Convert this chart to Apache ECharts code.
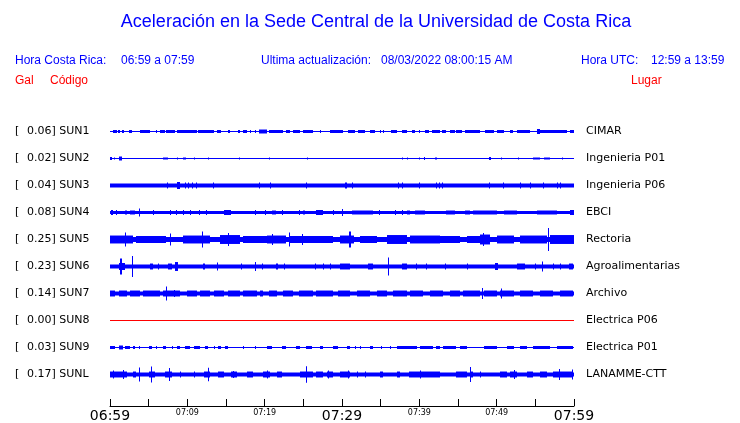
<!DOCTYPE html>
<html><head><meta charset="utf-8">
<script src="https://cdn.jsdelivr.net/npm/echarts@6/dist/echarts.min.js"></script>
<style>html,body{margin:0;padding:0;background:#fff}#c{width:740px;height:423px}</style>
</head><body><div id="c"></div>
<script>
// ---- data (minutes since 06:59; amplitudes in trace units) ----
const codes = ['SUN1','SUN2','SUN3','SUN4','SUN5','SUN6','SUN7','SUN8','SUN9','SUNL'];
const peaks = ['0.06','0.02','0.04','0.08','0.25','0.23','0.14','0.00','0.03','0.17'];
const stations = ['CIMAR','Ingenieria P01','Ingenieria P06','EBCI','Rectoria','Agroalimentarias','Archivo','Electrica P06','Electrica P01','LANAMME-CTT'];
const tickLabels = ['06:59','07:09','07:19','07:29','07:39','07:49','07:59'];
const baseHalf = [0.5,0.5,2,1.5,2.5,2,2,0.5,0.5,2];
// bursts: [start, end, half amplitude]
const sun1 = [[0.35,0.86,1.5],[1.08,1.29,1.5],[1.6,1.8,1.5],[2.5,2.9,1.5],[3.9,5.2,1.5],[6.0,6.1,1.5],[6.5,7.1,1.5],[7.3,8.4,1.5],[8.6,11.2,1.5],[11.4,13.4,1.5],[13.8,14.4,1.5],[15.3,15.5,1.5],[16.6,16.8,1.5],[17.2,17.7,1.5],[18.1,18.2,1.5],[18.7,18.8,1.5],[19.3,20.3,2],[20.5,22.4,1.5],[22.8,23.3,1.5],[23.7,24.6,1.5],[25.0,26.3,1.5],[27.2,27.3,1.5],[28.4,30.1,1.5],[30.8,31.7,1.5],[32.1,33.0,1.5],[33.6,34.3,1.5],[34.9,35.0,1.5],[35.3,35.4,1.5],[36.4,37.1,1.5],[37.7,38.4,1.5],[39.0,39.4,1.5],[39.9,40.0,1.5],[40.7,41.2,1.5],[41.6,42.7,1.5],[42.9,43.5,1.5],[44.0,44.6,1.5],[44.8,45.5,1.5],[45.9,47.8,1.5],[48.5,49.6,1.5],[50.0,50.9,1.5],[51.7,52.1,1.5],[52.6,54.3,1.5],[55.2,55.6,2.5],[55.6,59.1,1.5],[59.5,60,1.5]];
const sun2 = [[0,0.2,1.5],[0.5,0.7,1],[1.2,1.6,2],[6.9,7.5,1],[8.6,8.7,1],[9.5,9.8,1],[10.9,11.0,1],[12.7,12.8,1],[16.7,16.8,1],[20.6,20.7,1],[25.5,25.6,1],[37.7,37.8,1],[38.4,38.5,1],[40.0,40.1,1],[40.6,40.7,1.5],[42.0,42.3,1],[49.0,49.3,1.5],[50.6,50.7,1],[52.8,52.9,1],[54.7,55.6,1],[56.1,56.9,1],[58.5,58.6,1]];
const sun3 = [[7.4,7.5,3],[8.7,9.0,3.5],[9.7,9.8,3],[10.1,10.2,3],[10.6,10.7,3],[11.1,11.2,3],[13.3,13.4,3],[19.3,19.4,3],[20.7,20.8,3],[25.4,25.5,3],[30.4,30.6,3],[31.3,31.4,3],[37.2,37.3,3],[37.7,37.8,3],[40.0,40.1,3],[42.2,42.3,3],[42.6,42.7,3],[42.9,43.0,3],[49.0,49.2,3],[50.8,50.9,3],[53.0,53.1,3],[54.3,54.4,3],[56.0,56.1,3],[57.8,57.9,3],[58.2,58.3,3]];
const sun4 = [[0.1,0.4,2.5],[0.8,0.9,2.5],[1.9,2.2,2],[2.6,3.2,2],[3.8,3.9,4],[5.6,5.7,2.5],[7.7,7.8,2.5],[8.5,8.6,2.5],[9.5,9.6,2.5],[10.3,10.4,2.5],[11.5,11.6,2.5],[12.4,12.5,2.5],[14.7,15.6,2.5],[18.7,18.8,2.5],[20.0,20.1,2.5],[21.0,21.5,2],[22.2,22.3,2.5],[24.5,24.6,2.5],[25.0,25.2,2],[26.7,27.6,2.5],[28.9,29.0,2.5],[30.0,30.1,3.5],[31.3,34.0,2],[34.8,34.9,2.5],[36.9,37.0,2.5],[37.7,37.8,2.5],[38.4,38.8,2],[39.4,40.7,2],[43.5,44.6,2],[45.9,46.5,2],[47.0,50.0,2],[50.9,52.6,2],[55.2,57.8,2],[59.5,60,2.5]];
const sun5 = [[0,3.0,4],[3.4,7.3,3.5],[9.5,12.9,4],[14.2,16.8,4.5],[17.2,20.3,3.5],[20.3,22.8,4],[23.3,28.9,3.5],[29.7,31.5,4],[32.3,34.5,3.5],[35.8,38.4,4.5],[38.8,42.7,4],[42.7,45.3,3.5],[46.1,47.8,3.5],[47.8,49.1,5],[50.0,52.2,4],[53.0,56.5,4],[56.9,60,4.5],[1.9,2.0,7],[7.7,7.8,6],[11.9,12.0,8],[15.3,15.4,6.5],[21.0,21.1,5.5],[23.1,23.2,7],[24.8,24.9,5.5],[30.9,31.1,8],[48.2,48.3,6.5],[56.7,56.8,11.5]];
const sun6 = [[1.1,1.9,3.5],[1.3,1.5,8],[2.8,2.9,10.5],[5.2,5.6,3],[6.2,6.3,3],[7.5,8.0,3],[8.4,8.8,4.5],[12.0,12.3,3],[13.8,13.9,4],[17.0,17.1,3],[18.7,18.8,4.5],[19.7,19.8,3],[21.5,21.7,3],[22.5,22.6,3],[26.5,26.6,3],[27.5,27.6,3],[28.4,28.5,3],[29.8,31.0,3],[33.4,34.0,3],[35.9,36.0,9],[37.7,38.4,3],[39.6,39.7,3],[40.9,41.0,3],[43.3,43.4,3],[46.1,46.2,3],[49.8,50.2,3.5],[52.6,53.7,3],[55.0,55.1,3],[55.8,55.9,5],[57.3,57.4,3],[58.2,58.3,3],[59.3,59.9,3]];
const sun7 = [[0,0.6,3],[1.1,2.2,3],[2.6,3.9,3],[4.3,6.5,3],[6.9,9.1,3],[9.9,11.2,3],[11.6,12.9,3],[13.4,14.7,3],[15.3,16.8,3],[17.2,19.0,3],[19.4,19.8,3],[20.5,21.6,3],[22.4,23.7,3],[24.4,26.3,3],[26.7,28.9,3],[29.5,31.0,3],[31.9,33.6,3],[34.5,35.8,3],[36.6,38.4,3],[38.8,40.5,3],[41.4,43.1,3],[44.0,45.3,3],[45.7,47.8,3],[48.3,50.0,3],[50.4,52.2,3],[53.0,54.7,3],[55.6,57.3,3],[58.2,59.9,3],[7.2,7.3,7],[8.3,8.4,3.5],[48.1,48.2,5.5],[50.6,50.7,5]];
const sun8 = [];
const sun9 = [[0,0.6,1.5],[1.1,1.7,2],[1.9,2.6,1.5],[3.0,3.2,1.5],[3.7,3.8,1.5],[5.0,5.4,1.5],[6.0,6.1,1.5],[6.9,7.3,1.5],[8.0,8.1,1.5],[8.6,9.1,1.5],[9.7,10.3,1.5],[10.8,11.6,1.5],[12.3,12.7,1.5],[13.4,13.5,1.5],[14.0,14.4,1.5],[14.9,15.3,1.5],[17.2,17.3,1.5],[18.7,18.8,1.5],[20.3,20.9,1.5],[22.2,22.8,1.5],[24.1,24.6,1.5],[25.4,26.1,1.5],[27.2,27.6,1.5],[28.9,29.5,1.5],[30.6,31.0,1.5],[31.7,31.8,1.5],[32.3,32.4,1.5],[33.6,34.0,1.5],[35.1,35.2,1.5],[36.2,36.3,1.5],[37.1,39.7,1.5],[40.1,41.8,1.5],[42.2,42.7,1.5],[43.1,44.8,1.5],[45.3,46.1,1.5],[48.3,50.0,1.5],[51.3,52.2,1.5],[53.0,53.9,1.5],[54.7,56.9,1.5],[57.8,59.9,1.5]];
const sunL = [[0,2.2,3],[3.0,3.4,3],[5.0,5.8,3],[7.1,8.0,3],[9.1,9.2,3],[10.8,10.9,3],[12.1,12.9,3],[14.0,14.7,3],[15.7,16.4,3],[17.7,18.5,3],[19.8,20.7,3],[21.6,22.2,3],[24.6,26.3,3],[26.7,27.6,3],[28.0,28.9,3],[29.7,31.0,3],[31.9,32.0,3],[33.0,33.1,3],[34.9,35.3,3],[37.1,37.5,3],[38.6,42.7,3],[44.8,46.1,3],[46.6,47.0,3],[47.8,47.9,3],[50.4,51.3,3],[51.7,52.6,3],[53.9,54.7,3],[55.6,56.5,3],[57.3,59.9,3],[0.35,0.45,4],[1.7,1.8,4.5],[3.8,3.9,7],[5.3,5.4,8],[7.6,7.7,6.5],[12.7,12.8,6.7],[15.9,16.0,3.5],[20.3,20.4,4],[25.3,25.4,8.3],[28.2,28.3,4],[30.8,30.9,4],[40.1,40.2,4],[46.6,46.7,7.5],[52.2,52.3,4.5],[58.0,58.1,5.5],[59.7,59.8,5]];
const bursts = [sun1,sun2,sun3,sun4,sun5,sun6,sun7,sun8,sun9,sunL];

// ---- styles ----
const BLUE = '#0000ff', RED = '#ff0000';
const traceColor = i => (i === 7 ? RED : BLUE);
const ROW = 27.2;

const chart = echarts.init(document.getElementById('c'), null, {renderer: 'canvas'});

const series = bursts.map((list, i) => {
  const items = [[0, 60, baseHalf[i], i]].concat(list.map(b => [b[0], b[1], b[2], i]));
  return {
    type: 'custom',
    xAxisIndex: 0, yAxisIndex: 0,
    silent: true,
    clip: false,
    data: items,
    encode: {x: [0, 1], y: 2},
    renderItem: (params, api) => {
      const s = api.value(0), e = api.value(1), h = api.value(2), r = api.value(3);
      const c = ROW / 2 + ROW * r;
      const p0 = api.coord([s, c - h]);
      const p1 = api.coord([e, c + h]);
      const x = Math.round(p0[0]);
      const w = Math.max(1, Math.round(p1[0]) - x);
      const y = Math.min(p0[1], p1[1]);
      const hh = Math.max(1, Math.abs(p1[1] - p0[1]));
      return {type: 'rect', shape: {x: x, y: y, width: w, height: hh}, style: {fill: traceColor(r)}};
    }
  };
});

const option = {
  animation: false,
  backgroundColor: '#fff',
  grid: {left: 110, right: 166, top: 118, height: 272},
  xAxis: {
    type: 'value', min: 0, max: 60, interval: 5,
    position: 'bottom', offset: 18,
    splitLine: {show: false},
    axisLine: {onZero: false, lineStyle: {color: '#000', width: 1}},
    axisTick: {inside: true, length: 7, lineStyle: {color: '#000'}},
    axisLabel: {
      margin: 3, color: '#000',
      formatter: v => {
        if (v % 10 !== 0) return '';
        const k = v / 10;
        return (k % 3 === 0 ? '{big|' : '{small|') + tickLabels[k] + '}';
      },
      rich: {
        big: {fontFamily: 'DejaVu Sans', fontSize: 14, color: '#000'},
        small: {fontFamily: 'DejaVu Sans', fontSize: 8, color: '#000'}
      }
    }
  },
  yAxis: [
    {type: 'value', min: 0, max: 272, inverse: true, show: false},
    {
      type: 'category', data: codes, inverse: true, position: 'left',
      axisLine: {show: false}, axisTick: {show: false}, splitLine: {show: false},
      axisLabel: {
        margin: 95, align: 'left', color: '#000',
        formatter: (v, idx) => '{a|[}{b|' + peaks[idx] + '] ' + v + '}',
        rich: {
          a: {fontFamily: 'DejaVu Sans', fontSize: 11, color: '#000', width: 12},
          b: {fontFamily: 'DejaVu Sans', fontSize: 11, color: '#000'}
        }
      }
    },
    {
      type: 'category', data: stations, inverse: true, position: 'right',
      axisLine: {show: false}, axisTick: {show: false}, splitLine: {show: false},
      axisLabel: {margin: 12, align: 'left', color: '#000', fontFamily: 'DejaVu Sans', fontSize: 11}
    }
  ],
  graphic: [
    {type: 'text', x: 376, y: 22, style: {text: 'Aceleración en la Sede Central de la Universidad de Costa Rica', fill: BLUE, font: '18px "Liberation Sans"', textAlign: 'center', textVerticalAlign: 'middle'}},
    {type: 'text', x: 15, y: 61, style: {text: 'Hora Costa Rica:', fill: BLUE, font: '12px "Liberation Sans"', textVerticalAlign: 'middle'}},
    {type: 'text', x: 121, y: 61, style: {text: '06:59 a 07:59', fill: BLUE, font: '12px "Liberation Sans"', textVerticalAlign: 'middle'}},
    {type: 'text', x: 261, y: 61, style: {text: 'Ultima actualización:', fill: BLUE, font: '12px "Liberation Sans"', textVerticalAlign: 'middle'}},
    {type: 'text', x: 381, y: 61, style: {text: '08/03/2022 08:00:15 AM', fill: BLUE, font: '12px "Liberation Sans"', textVerticalAlign: 'middle'}},
    {type: 'text', x: 581, y: 61, style: {text: 'Hora UTC:', fill: BLUE, font: '12px "Liberation Sans"', textVerticalAlign: 'middle'}},
    {type: 'text', x: 651, y: 61, style: {text: '12:59 a 13:59', fill: BLUE, font: '12px "Liberation Sans"', textVerticalAlign: 'middle'}},
    {type: 'text', x: 15, y: 81, style: {text: 'Gal', fill: RED, font: '12px "Liberation Sans"', textVerticalAlign: 'middle'}},
    {type: 'text', x: 50, y: 81, style: {text: 'Código', fill: RED, font: '12px "Liberation Sans"', textVerticalAlign: 'middle'}},
    {type: 'text', x: 631, y: 81, style: {text: 'Lugar', fill: RED, font: '12px "Liberation Sans"', textVerticalAlign: 'middle'}}
  ],
  series: series
};
chart.setOption(option);
</script>
</body></html>
